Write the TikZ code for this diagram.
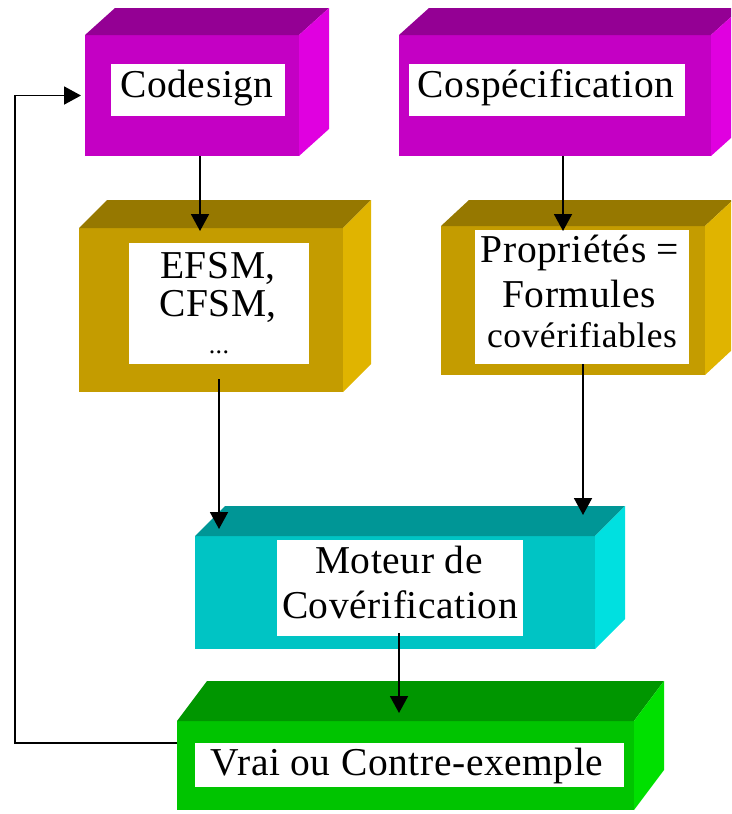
\documentclass[tikz,border=0pt]{standalone}
\usepackage{fontspec}
\setmainfont{Liberation Serif}[LetterSpace=1.5]
\usetikzlibrary{fit,calc,arrows.meta}

% face colours of the prisms: front / top / side
\definecolor{magF}{RGB}{196,0,196}
\definecolor{magT}{RGB}{148,0,148}
\definecolor{magS}{RGB}{224,0,224}
\definecolor{golF}{RGB}{196,156,0}
\definecolor{golT}{RGB}{150,120,0}
\definecolor{golS}{RGB}{224,180,0}
\definecolor{teaF}{RGB}{0,196,196}
\definecolor{teaT}{RGB}{0,150,150}
\definecolor{teaS}{RGB}{0,224,224}
\definecolor{greF}{RGB}{0,196,0}
\definecolor{greT}{RGB}{0,150,0}
\definecolor{greS}{RGB}{0,224,0}

\tikzset{
  face/.style={inner sep=0pt, outer sep=0pt, draw=none},
  labelbox/.style={face, fill=white},
  txt/.style={anchor=base, inner sep=0pt, font=\fontsize{39.5}{40}\selectfont},
  smalltxt/.style={txt, font=\fontsize{35.5}{36}\selectfont},
  tinytxt/.style={txt, font=\fontsize{26}{26}\selectfont},
  arr/.style={line width=1.9pt, -{Triangle[length=17pt,width=18pt]}},
}

% 3D box: name, front corners, depth vector, front/top/side colours
\newcommand\prismbox[7]{%
  \node[face, fit={#2 #3}, fill=#5] (#1) {};
  \fill[#6] (#1.north west) -- ++#4 -- ($(#1.north east)+#4$) -- (#1.north east) -- cycle;
  \fill[#7] (#1.north east) -- ++#4 -- ($(#1.south east)+#4$) -- (#1.south east) -- cycle;
}

\begin{document}
\begin{tikzpicture}[x=1pt,y=-1pt]
  \useasboundingbox (0,0) rectangle (731,814);
  \clip (0,0) rectangle (731,814);

  % prisms
  \prismbox{codF}{(85,35)}{(299,156)}{(30,-27)}{magF}{magT}{magS}
  \prismbox{cosF}{(399,35)}{(711,156)}{(30,-27)}{magF}{magT}{magS}
  \prismbox{efsF}{(79,228)}{(343,392)}{(28,-28)}{golF}{golT}{golS}
  \prismbox{propF}{(441,226)}{(705,375)}{(28,-26)}{golF}{golT}{golS}
  \prismbox{motF}{(195,536)}{(595,649)}{(30,-30)}{teaF}{teaT}{teaS}
  \prismbox{vraiF}{(177,721)}{(634,810)}{(30,-40)}{greF}{greT}{greS}

  % white labels
  \node[labelbox, fit={(111,64) (285,116)}] (codL) {};
  \node[labelbox, fit={(409,64) (685,116)}] (cosL) {};
  \node[labelbox, fit={(129,243) (309,364)}] (efsL) {};
  \node[labelbox, fit={(475,230) (689,364)}] (propL) {};
  \node[labelbox, fit={(277,540) (523,636)}] (motL) {};
  \node[labelbox, fit={(195,743) (624,787)}] (vraiL) {};

  % texts
  \node[txt] (codT) at (197,97) {Codesign};
  \node[txt] (cosT) at (546,97) {Cospécification};
  \node[txt] (efsT1) at (218,278) {EFSM,};
  \node[txt] (efsT2) at (218,316) {CFSM,};
  \node[tinytxt] (efsT3) at (219,353) {...};
  \node[txt] (propT1) at (580,262) {Propriétés =};
  \node[txt] (propT2) at (579,307) {Formules};
  \node[smalltxt] (propT3) at (582,347) {covérifiables};
  \node[txt] (motT1) at (399,573) {Moteur de};
  \node[txt] (motT2) at (400,618) {Covérification};
  \node[txt] (vraiT) at (407,775) {Vrai ou Contre-exemple};

  % connector columns
  \coordinate (c1) at (200,0);
  \coordinate (c2) at (219,0);
  \coordinate (c3) at (563,0);
  \coordinate (c4) at (583,0);
  \coordinate (c5) at (399,0);
  \coordinate (fb) at (15,0);

  % connectors
  \draw[arr] (codF.south -| c1) -- ($(efsF.north -| c1)+(0,3)$);
  \draw[arr] (cosF.south -| c3) -- ($(propF.north -| c3)+(0,5)$);
  \draw[arr] (efsF.south -| c2) ++(0,-13) -- ($(motF.north -| c2)+(0,-7)$);
  \draw[arr] (propL.south -| c4) -- ($(motF.north -| c4)+(0,-21)$);
  \draw[arr] (motL.south -| c5) ++(0,-3) -- ($(vraiF.north -| c5)+(0,-8)$);
  \draw[arr] (vraiL.north -| vraiF.west) -- (vraiL.north -| fb)
             -- (codF.west -| fb) -- ($(codF.west)+(-4,0)$);
\end{tikzpicture}
\end{document}
